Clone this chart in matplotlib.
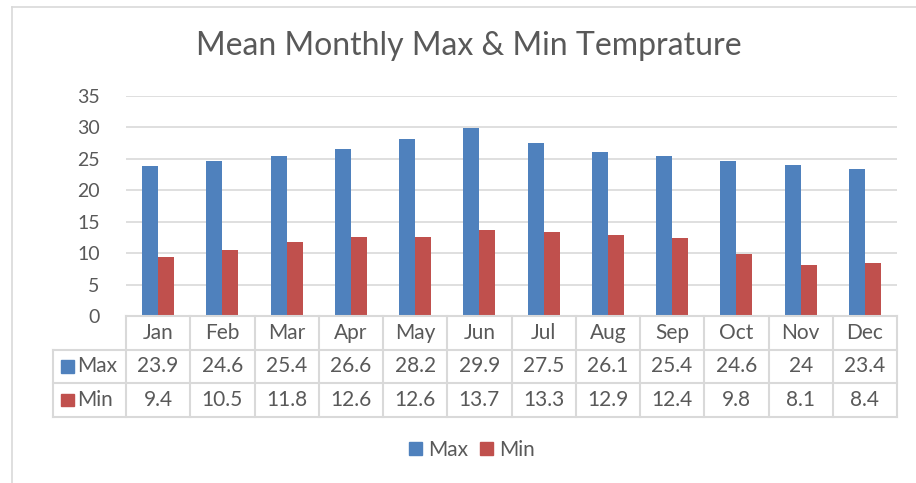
import matplotlib
matplotlib.use("Agg")
import matplotlib.pyplot as plt
from matplotlib.patches import Rectangle
from matplotlib.lines import Line2D

plt.rcParams['font.family'] = ['Lato', 'DejaVu Sans']

months = ["Jan", "Feb", "Mar", "Apr", "May", "Jun", "Jul", "Aug", "Sep", "Oct", "Nov", "Dec"]
max_temp = [23.9, 24.6, 25.4, 26.6, 28.2, 29.9, 27.5, 26.1, 25.4, 24.6, 24, 23.4]
min_temp = [9.4, 10.5, 11.8, 12.6, 12.6, 13.7, 13.3, 12.9, 12.4, 9.8, 8.1, 8.4]
max_labels = ["23.9", "24.6", "25.4", "26.6", "28.2", "29.9", "27.5", "26.1", "25.4", "24.6", "24", "23.4"]
min_labels = ["9.4", "10.5", "11.8", "12.6", "12.6", "13.7", "13.3", "12.9", "12.4", "9.8", "8.1", "8.4"]
series_names = ["Max", "Min"]
yticks = [0, 5, 10, 15, 20, 25, 30, 35]

BLUE = "#4F81BD"
RED = "#C0504D"
TXT = "#595959"
GRID = "#D9D9D9"

W, H = 916, 483
fig = plt.figure(figsize=(W / 100, H / 100), dpi=100)

def px_axes(l, t, r, b):
    return fig.add_axes([l / W, 1 - b / H, (r - l) / W, (b - t) / H])

# outer frame (partial, as cropped)
fig.add_artist(Line2D([12 / W, 12 / W], [0, 1 - 7 / H], color=GRID, lw=1.2))
fig.add_artist(Line2D([12 / W, 1], [1 - 7 / H, 1 - 7 / H], color=GRID, lw=1.2))

# main bar axes
ax = px_axes(126, 96, 897, 316)
x = list(range(len(months)))
w = 0.25
ax.bar([i - w / 2 for i in x], max_temp, width=w, color=BLUE, zorder=3)
ax.bar([i + w / 2 for i in x], min_temp, width=w, color=RED, zorder=3)
ax.set_xlim(-0.5, len(months) - 0.5)
ax.set_ylim(0, 35)
ax.set_yticks(yticks)
ax.set_yticklabels([str(v) for v in yticks], color=TXT, fontsize=14)
ax.tick_params(axis='y', length=0, pad=19)
ax.set_xticks([])
ax.grid(axis='y', color=GRID, lw=1.2, zorder=0)
for s in ax.spines.values():
    s.set_visible(False)

# data table axes
unit = (897 - 126) / 12.0
left_x = -0.5 - (126 - 53) / unit
tax = px_axes(53, 316, 897, 417)
tax.set_xlim(left_x, len(months) - 0.5)
tax.set_ylim(3, 0)
tax.axis('off')
lc = dict(color=GRID, lw=1.5, clip_on=False)
# vertical lines
for k in range(len(months) + 1):
    tax.plot([k - 0.5, k - 0.5], [0, 3], **lc)
tax.plot([left_x, left_x], [1, 3], **lc)
# horizontal lines
tax.plot([-0.5, len(months) - 0.5], [0, 0], **lc)
for yy in [1, 2, 3]:
    tax.plot([left_x, len(months) - 0.5], [yy, yy], **lc)
fs = 15
for i, m in enumerate(months):
    tax.text(i, 0.5, m, ha='center', va='center', color=TXT, fontsize=fs)
    tax.text(i, 1.5, max_labels[i], ha='center', va='center', color=TXT, fontsize=fs)
    tax.text(i, 2.5, min_labels[i], ha='center', va='center', color=TXT, fontsize=fs)
for r, (name, col) in enumerate(zip(series_names, [BLUE, RED])):
    yy = 1.5 + r
    tax.add_patch(Rectangle((left_x + 0.12, yy - 0.18), 0.2, 0.36, color=col, clip_on=False))
    tax.text(left_x + 0.37, yy, name, ha='left', va='center', color=TXT, fontsize=fs)

# title
fig.text(469 / W, 1 - 46 / H, "Mean Monthly Max & Min Temprature", ha='center', va='center',
         color=TXT, fontsize=23)

# legend
handles = [Rectangle((0, 0), 1, 1, color=BLUE), Rectangle((0, 0), 1, 1, color=RED)]
fig.legend(handles, series_names, loc='center', bbox_to_anchor=(472 / W, 1 - 450 / H),
           ncol=2, frameon=False, fontsize=15, handlelength=0.6, handleheight=0.6,
           handletextpad=0.3, columnspacing=0.6, labelcolor=TXT)

fig.savefig("out.png", dpi=100)
